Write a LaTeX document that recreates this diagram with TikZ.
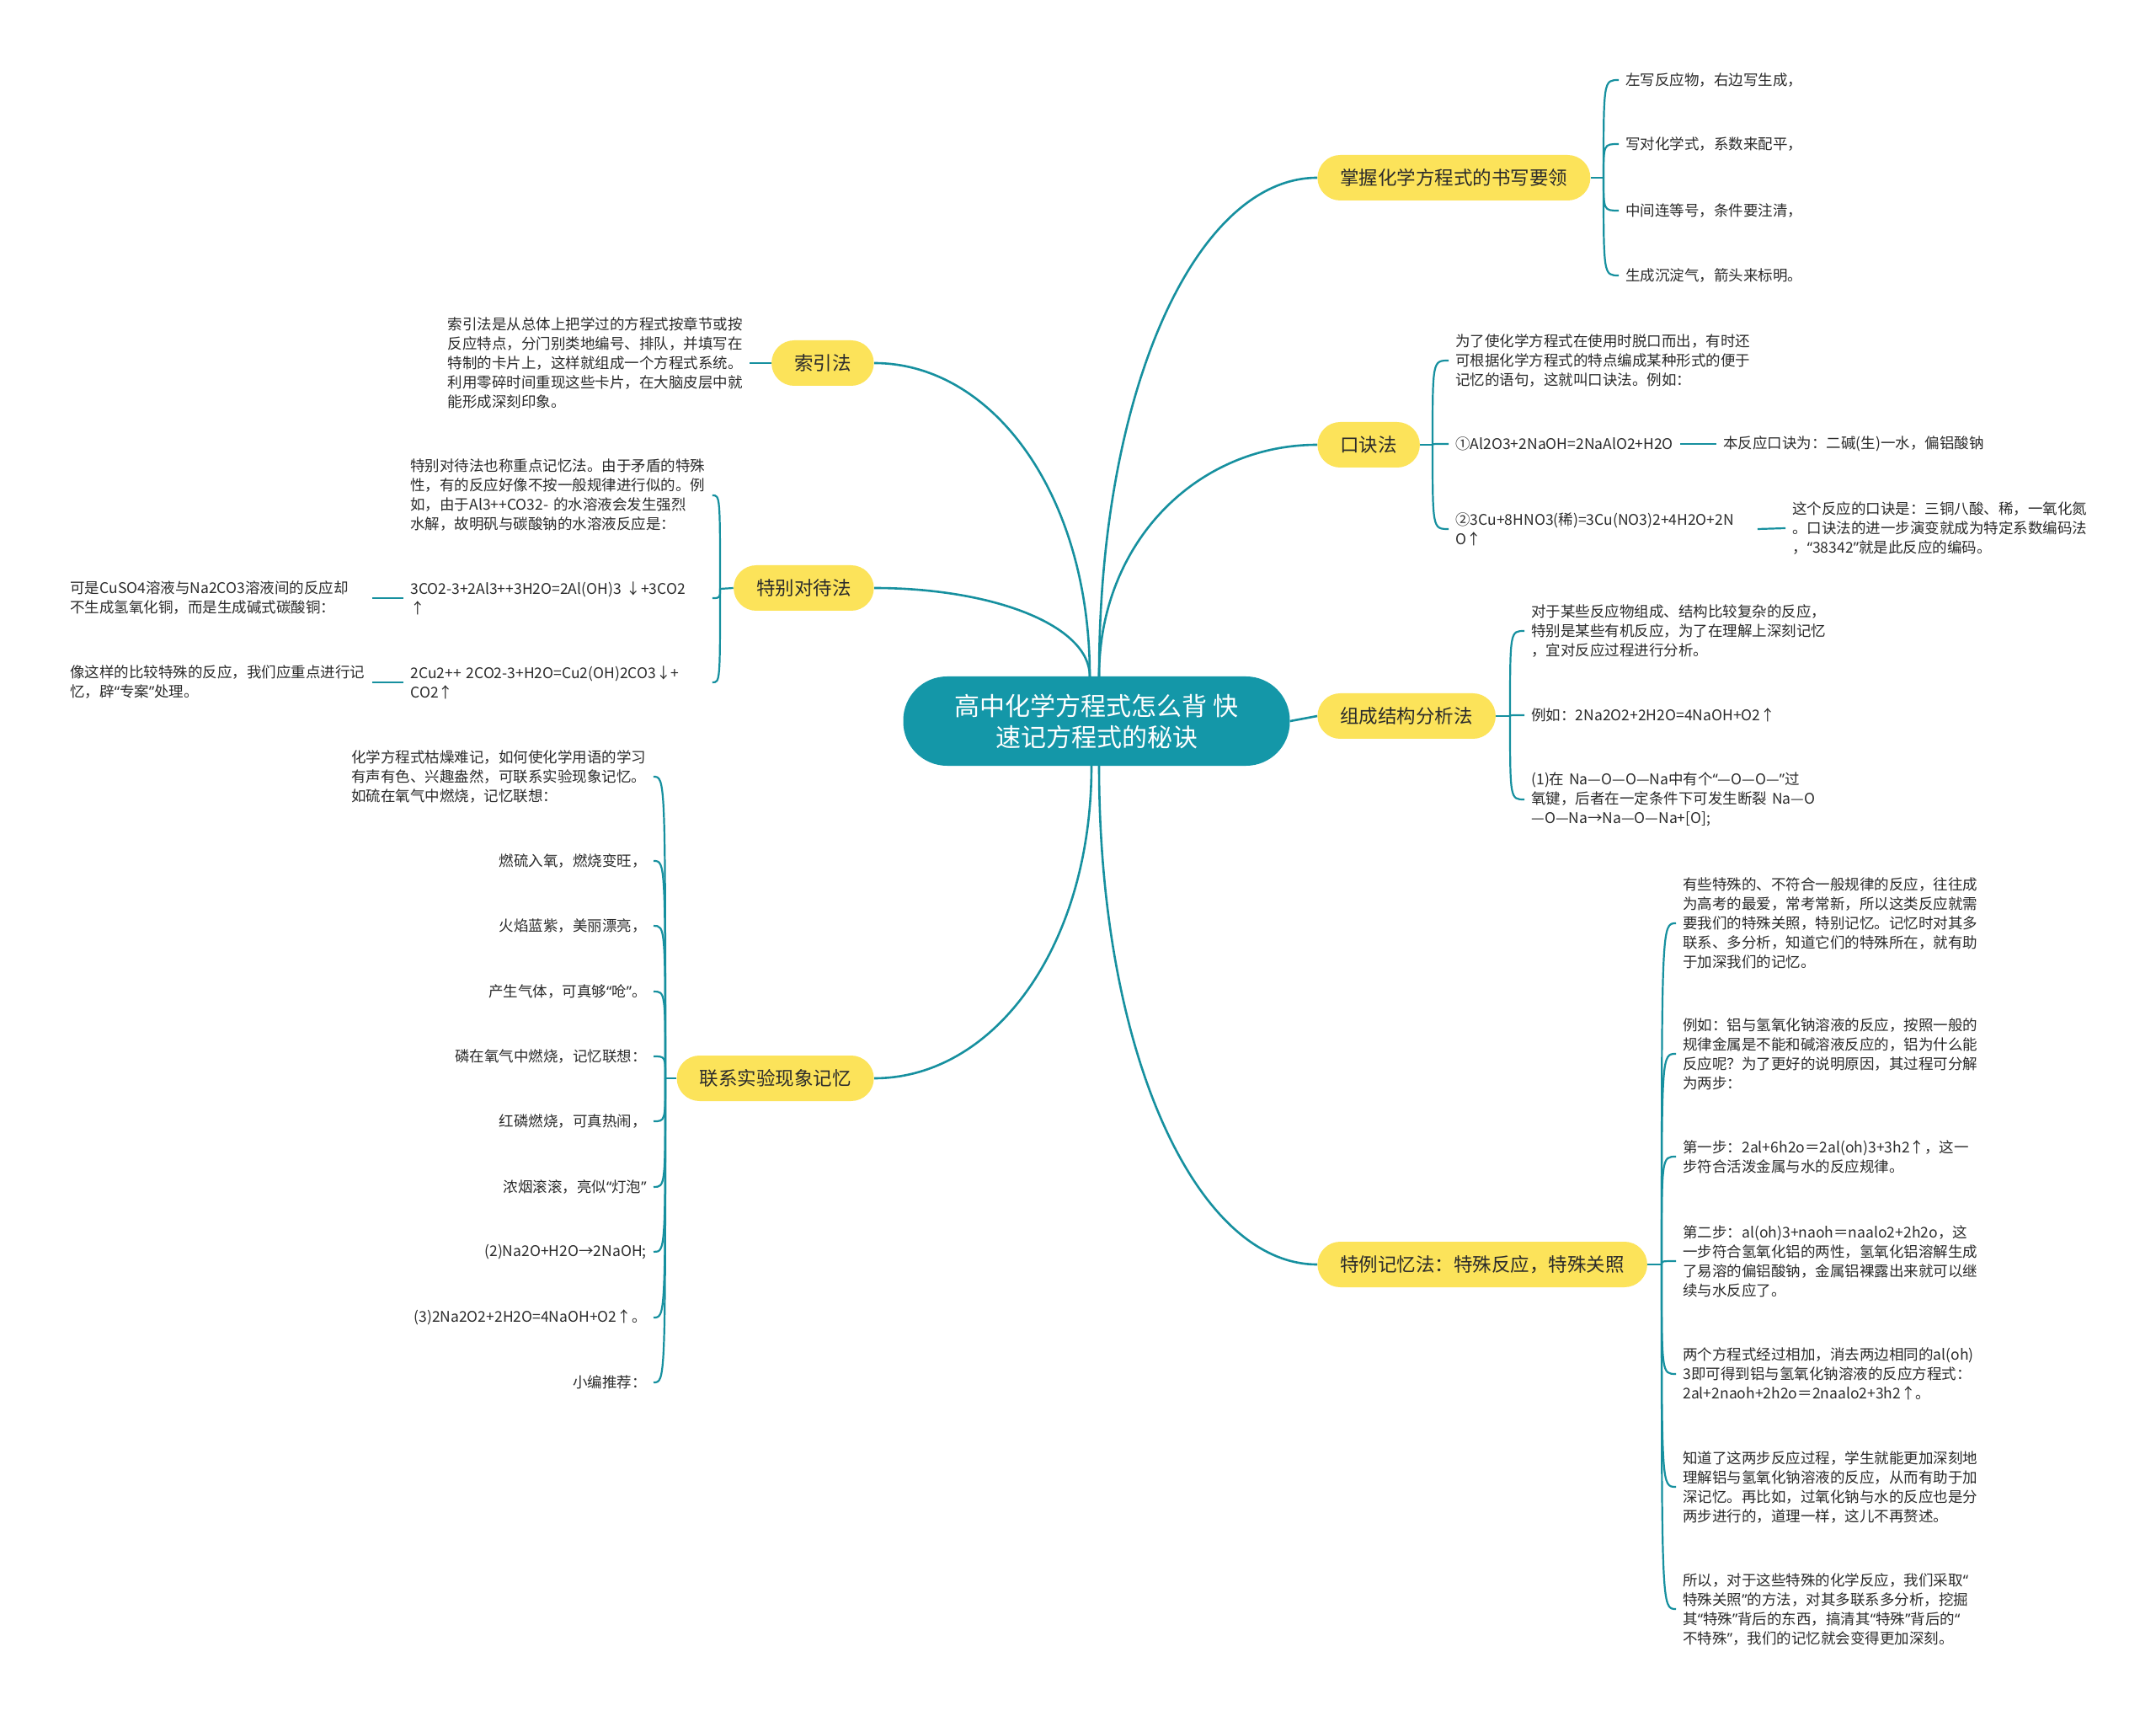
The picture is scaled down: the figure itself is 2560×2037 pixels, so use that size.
\documentclass[tikz,border=0pt]{standalone}
\usepackage{fontspec}
\setmainfont{Noto Sans CJK SC}
\newfontfamily\latinq{Noto Sans}
\newcommand\qo{{\latinq “}}
\newcommand\qc{{\latinq ”}}
\usetikzlibrary{calc}
\definecolor{rootfill}{HTML}{1497A8}
\definecolor{lineC}{HTML}{16909F}
\definecolor{yel}{HTML}{FCE35A}
\definecolor{txt}{HTML}{2B2B2B}
\pgfdeclarelayer{bg}
\pgfsetlayers{bg,main}
\begin{document}
\begin{tikzpicture}[x=0.5pt,y=-0.5pt,
  rootbox/.style={fill=rootfill, text=white, rounded corners=26pt, minimum width=229.5pt, minimum height=53pt, align=center, font=\fontsize{15pt}{18.5pt}\selectfont},
  mainbox/.style={fill=yel, text=txt, rounded corners=13.5pt, minimum height=27pt, inner xsep=13.5pt, font=\fontsize{11.25pt}{13pt}\selectfont},
  leaf/.style={text=txt, inner xsep=4pt, inner ysep=2pt, font=\fontsize{8.75pt}{11.5pt}\selectfont, align=left},
  wrap/.style={leaf, text width=175pt},
  conn/.style={draw=lineC, line width=1.3pt},
  brk/.style={draw=lineC, line width=1.1pt},
  mcurve/.style={to path={.. controls ($(\tikztostart)!0.58!(\tikztostart|-\tikztotarget)$) and ($(\tikztostart|-\tikztotarget)!0.45!(\tikztotarget)$) .. (\tikztotarget)}},
  hook/.style={to path={.. controls (\tikztostart|-\tikztotarget) and (\tikztostart|-\tikztotarget) .. (\tikztotarget)}},
]
\useasboundingbox (0,0) rectangle (2560,2037);
\begin{pgfonlayer}{bg}
\fill[white] (0,0) rectangle (2560,2037);
\end{pgfonlayer}

% root and main branches
\node[rootbox] (root) at (1302,856) {高中化学方程式怎么背 快\\速记方程式的秘诀};
\node[mainbox, anchor=west] (r1) at (1564,211) {掌握化学方程式的书写要领};
\node[mainbox, anchor=west] (r2) at (1564,528) {口诀法};
\node[mainbox, anchor=west] (r3) at (1564,850) {组成结构分析法};
\node[mainbox, anchor=west] (r4) at (1564,1501) {特例记忆法：特殊反应，特殊关照};
\node[mainbox, anchor=east] (l1) at (1038,431) {索引法};
\node[mainbox, anchor=east] (l2) at (1038,698) {特别对待法};
\node[mainbox, anchor=east] (l3) at (1038,1280) {联系实验现象记忆};

\coordinate (tr) at (1305,803);
\coordinate (tl) at (1294,803);
\coordinate (br) at (1305,909);
\coordinate (bl) at (1296,909);

% R1
\coordinate (r1j) at (1904,211);
\node[leaf, anchor=west] (r1a) at (1922,95) {左写反应物，右边写生成，};
\node[leaf, anchor=west] (r1b) at (1922,171) {写对化学式，系数来配平，};
\node[leaf, anchor=west] (r1c) at (1922,250) {中间连等号，条件要注清，};
\node[leaf, anchor=west] (r1d) at (1922,327) {生成沉淀气，箭头来标明。};

% R2
\coordinate (r2j) at (1701,528);
\node[wrap, anchor=west] (r2a) at (1720,428) {为了使化学方程式在使用时脱口而出，有时还\\可根据化学方程式的特点编成某种形式的便于\\记忆的语句，这就叫口诀法。例如：};
\node[leaf, anchor=west] (r2b) at (1720,527) {①Al2O3+2NaOH=2NaAlO2+H2O};
\node[leaf, anchor=west] (r2bs) at (2038,527) {本反应口诀为：二碱(生)一水，偏铝酸钠};
\node[wrap, anchor=west] (r2c) at (1720,628) {②3Cu+8HNO3(稀)=3Cu(NO3)2+4H2O+2N\\O↑};
\node[wrap, anchor=west] (r2cs) at (2120,627) {这个反应的口诀是：三铜八酸、稀，一氧化氮\\。口诀法的进一步演变就成为特定系数编码法\\，\qo 38342\qc 就是此反应的编码。};

% R3
\coordinate (r3j) at (1793,850);
\node[wrap, anchor=west] (r3a) at (1810,749) {对于某些反应物组成、结构比较复杂的反应，\\特别是某些有机反应，为了在理解上深刻记忆\\，宜对反应过程进行分析。};
\node[leaf, anchor=west] (r3b) at (1810,849) {例如：2Na2O2+2H2O=4NaOH+O2↑};
\node[wrap, anchor=west] (r3c) at (1810,949) {(1)在 Na—O—O—Na中有个\qo —O—O—\qc 过\\氧键，后者在一定条件下可发生断裂 Na—O\\—O—Na→Na—O—Na+[O];};

% R4
\coordinate (r4j) at (1973,1501);
\node[wrap, anchor=west] (r4a) at (1990,1096) {有些特殊的、不符合一般规律的反应，往往成\\为高考的最爱，常考常新，所以这类反应就需\\要我们的特殊关照，特别记忆。记忆时对其多\\联系、多分析，知道它们的特殊所在，就有助\\于加深我们的记忆。};
\node[wrap, anchor=west] (r4b) at (1990,1251) {例如：铝与氢氧化钠溶液的反应，按照一般的\\规律金属是不能和碱溶液反应的，铝为什么能\\反应呢？为了更好的说明原因，其过程可分解\\为两步：};
\node[wrap, anchor=west] (r4c) at (1990,1373) {第一步：2al+6h2o＝2al(oh)3+3h2↑，这一\\步符合活泼金属与水的反应规律。};
\node[wrap, anchor=west] (r4d) at (1990,1497) {第二步：al(oh)3+naoh＝naalo2+2h2o，这\\一步符合氢氧化铝的两性，氢氧化铝溶解生成\\了易溶的偏铝酸钠，金属铝裸露出来就可以继\\续与水反应了。};
\node[wrap, anchor=west] (r4e) at (1990,1631) {两个方程式经过相加，消去两边相同的al(oh)\\3即可得到铝与氢氧化钠溶液的反应方程式：\\2al+2naoh+2h2o＝2naalo2+3h2↑。};
\node[wrap, anchor=west] (r4f) at (1990,1765) {知道了这两步反应过程，学生就能更加深刻地\\理解铝与氢氧化钠溶液的反应，从而有助于加\\深记忆。再比如，过氧化钠与水的反应也是分\\两步进行的，道理一样，这儿不再赘述。};
\node[wrap, anchor=west] (r4g) at (1990,1910) {所以，对于这些特殊的化学反应，我们采取\qo\\特殊关照\qc 的方法，对其多联系多分析，挖掘\\其\qo 特殊\qc 背后的东西，搞清其\qo 特殊\qc 背后的\qo\\不特殊\qc ，我们的记忆就会变得更加深刻。};

% L1
\node[wrap, anchor=east] (l1a) at (890,431) {索引法是从总体上把学过的方程式按章节或按\\反应特点，分门别类地编号、排队，并填写在\\特制的卡片上，这样就组成一个方程式系统。\\利用零碎时间重现这些卡片，在大脑皮层中就\\能形成深刻印象。};

% L2
\coordinate (l2j) at (855,699);
\node[wrap, anchor=west] (l2a) at (479,588) {特别对待法也称重点记忆法。由于矛盾的特殊\\性，有的反应好像不按一般规律进行似的。例\\如，由于Al3++CO32- 的水溶液会发生强烈\\水解，故明矾与碳酸钠的水溶液反应是：};
\node[wrap, anchor=west] (l2b) at (479,710) {3CO2-3+2Al3++3H2O=2Al(OH)3 ↓+3CO2\\↑};
\node[wrap, anchor=west] (l2c) at (479,810) {2Cu2++ 2CO2-3+H2O=Cu2(OH)2CO3↓+\\CO2↑};
\node[wrap, anchor=west] (l2bs) at (75,710) {可是CuSO4溶液与Na2CO3溶液间的反应却\\不生成氢氧化铜，而是生成碱式碳酸铜：};
\node[wrap, anchor=west] (l2cs) at (75,810) {像这样的比较特殊的反应，我们应重点进行记\\忆，辟\qo 专案\qc 处理。};

% L3
\coordinate (l3j) at (790,1280);
\node[wrap, anchor=west] (l3a) at (409,922) {化学方程式枯燥难记，如何使化学用语的学习\\有声有色、兴趣盎然，可联系实验现象记忆。\\如硫在氧气中燃烧，记忆联想：};
\node[leaf, anchor=east] (l3b) at (776,1022) {燃硫入氧，燃烧变旺，};
\node[leaf, anchor=east] (l3c) at (776,1099) {火焰蓝紫，美丽漂亮，};
\node[leaf, anchor=east] (l3d) at (776,1177) {产生气体，可真够\qo 呛\qc 。};
\node[leaf, anchor=east] (l3e) at (776,1254) {磷在氧气中燃烧，记忆联想：};
\node[leaf, anchor=east] (l3f) at (776,1331) {红磷燃烧，可真热闹，};
\node[leaf, anchor=east] (l3g) at (776,1409) {浓烟滚滚，亮似\qo 灯泡\qc};
\node[leaf, anchor=east] (l3h) at (776,1486) {(2)Na2O+H2O→2NaOH;};
\node[leaf, anchor=east] (l3i) at (776,1564) {(3)2Na2O2+2H2O=4NaOH+O2↑。};
\node[leaf, anchor=east] (l3k) at (776,1641) {小编推荐：};

\begin{pgfonlayer}{bg}
% main connectors
\draw[conn] (tr) to[mcurve] (r1.west);
\draw[conn] (tr) to[mcurve] (r2.west);
\draw[conn] (root.east) -- (r3.west);
\draw[conn] (br) to[mcurve] (r4.west);
\draw[conn] (tl) to[mcurve] (l1.east);
\draw[conn] (tl) to[mcurve] (l2.east);
\draw[conn] (bl) to[mcurve] (l3.east);
% R1
\draw[brk] (r1.east) -- (r1j);
\foreach \c in {r1a,r1b,r1c,r1d} \draw[brk] (r1j) to[hook] (\c.west);
% R2
\draw[brk] (r2.east) -- (r2j);
\foreach \c in {r2a,r2b,r2c} \draw[brk] (r2j) to[hook] (\c.west);
\draw[brk] (r2b.east) -- (r2bs.west);
\draw[brk] (r2c.east) -- (r2cs.west);
% R3
\draw[brk] (r3.east) -- (r3j);
\foreach \c in {r3a,r3b,r3c} \draw[brk] (r3j) to[hook] (\c.west);
% R4
\draw[brk] (r4.east) -- (r4j);
\foreach \c in {r4a,r4b,r4c,r4d,r4e,r4f,r4g} \draw[brk] (r4j) to[hook] (\c.west);
% L1
\draw[brk] (l1.west) -- (l1a.east);
% L2
\draw[brk] (l2.west) -- (l2j);
\foreach \c in {l2a,l2b,l2c} \draw[brk] (l2j) to[hook] (\c.east);
\draw[brk] (l2bs.east) -- (l2b.west);
\draw[brk] (l2cs.east) -- (l2c.west);
% L3
\draw[brk] (l3.west) -- (l3j);
\foreach \c in {l3a,l3b,l3c,l3d,l3e,l3f,l3g,l3h,l3i,l3k} \draw[brk] (l3j) to[hook] (\c.east);
\end{pgfonlayer}
\end{tikzpicture}
\end{document}
